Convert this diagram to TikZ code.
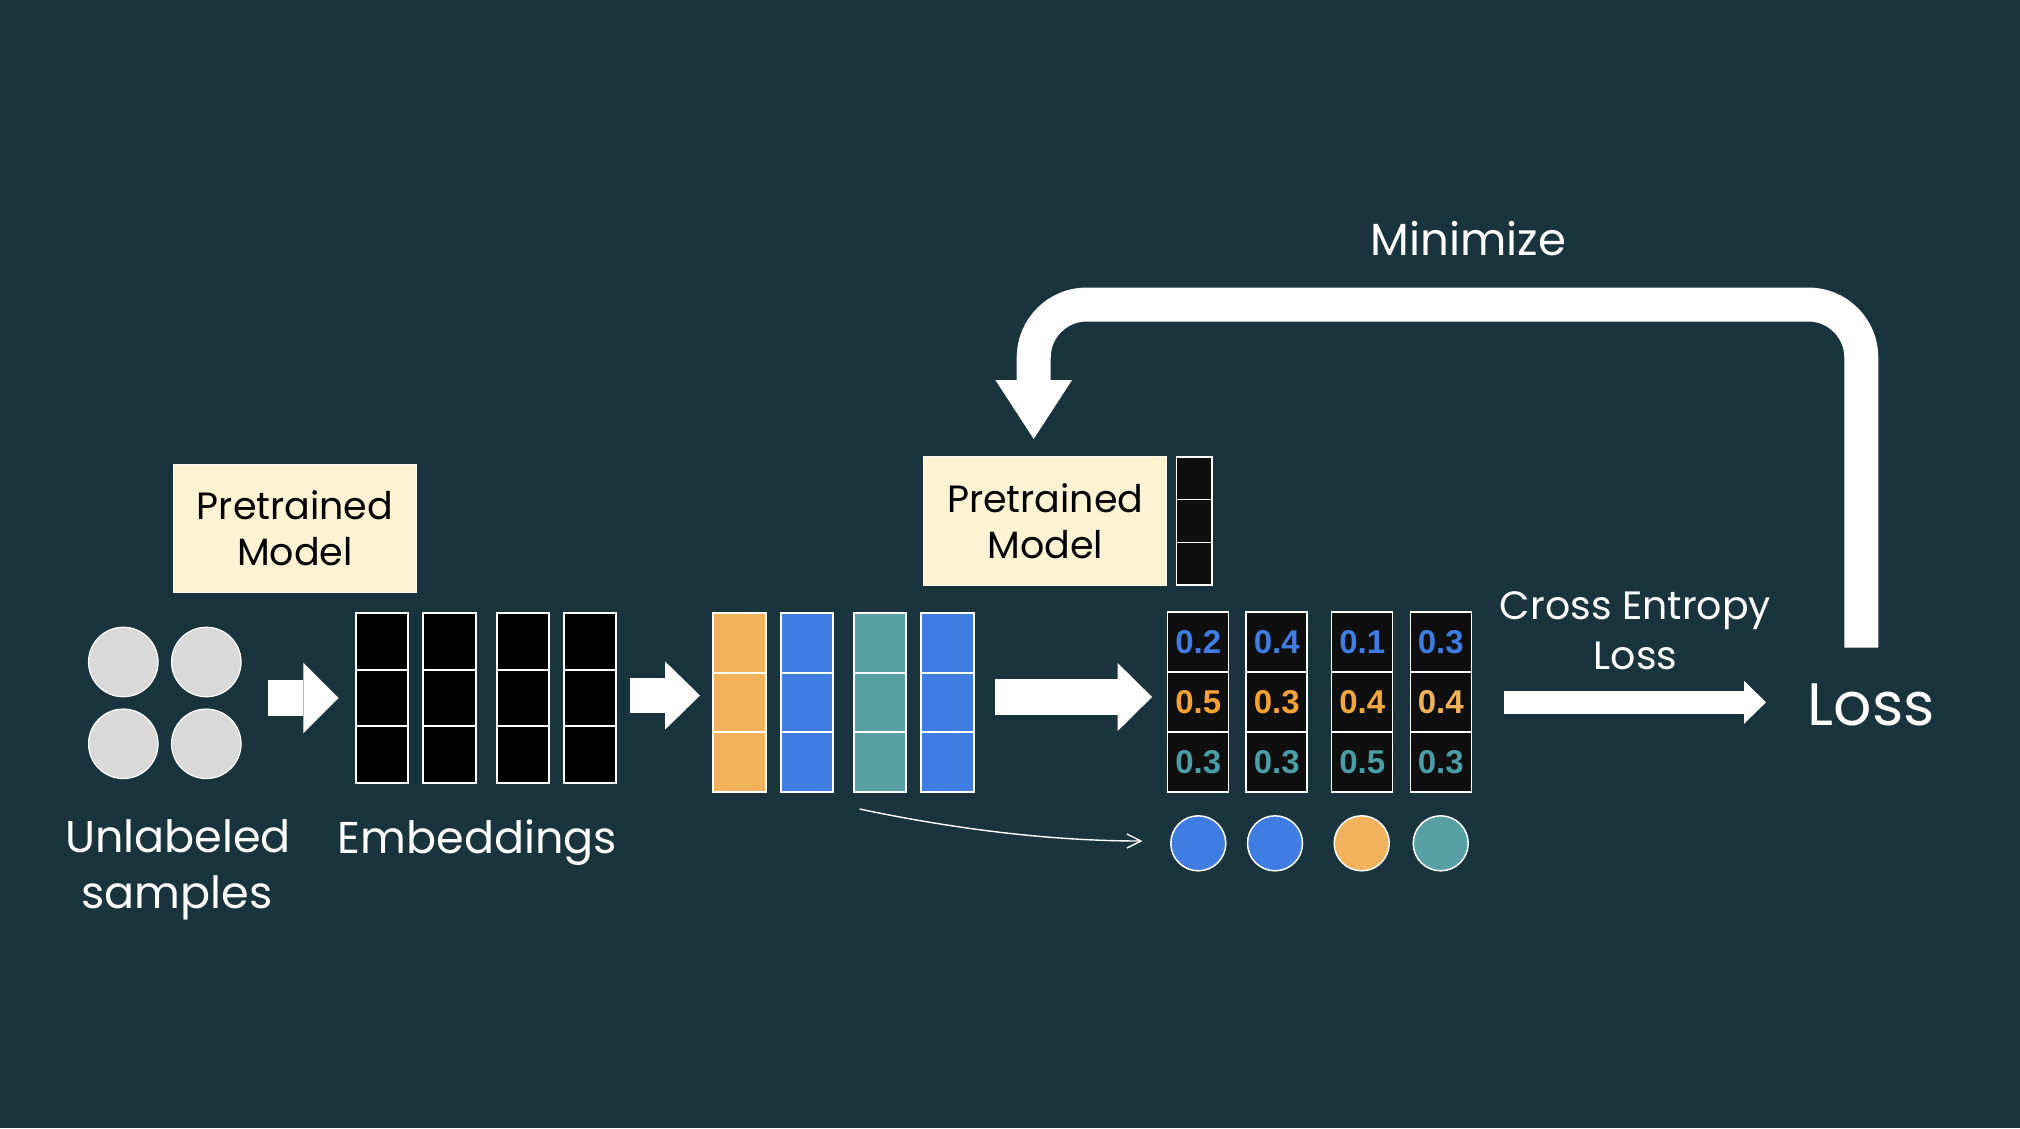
\documentclass[tikz,border=0pt]{standalone}
\usepackage{fontspec}
\setmainfont{Poppins}
\newfontfamily\numfont{Liberation Sans}
\usetikzlibrary{arrows.meta}
\definecolor{bg}{HTML}{1A343D}
\definecolor{cream}{HTML}{FDF2D1}
\definecolor{sgray}{HTML}{D9D9D9}
\definecolor{corange}{HTML}{F2B25B}
\definecolor{cblue}{HTML}{3F7DE3}
\definecolor{cteal}{HTML}{58A0A4}
\definecolor{cellblack}{HTML}{0F0F0F}
\definecolor{numblue}{HTML}{3F7DE3}
\definecolor{numteal}{HTML}{4A9EA6}
\definecolor{numorA}{HTML}{F5A133}
\definecolor{numorB}{HTML}{F3A63F}
\definecolor{numorC}{HTML}{F2B25B}
\begin{document}
\begin{tikzpicture}[x=1pt,y=-1pt,
  embcell/.style={draw=white,line width=2pt,fill=black,minimum width=52.3pt,minimum height=56.5pt,inner sep=0pt,outer sep=0pt},
  colcell/.style={draw=white,line width=2pt,fill=#1,minimum width=52.5pt,minimum height=59.5pt,inner sep=0pt,outer sep=0pt},
  probcell/.style={draw=white,line width=1.5pt,fill=cellblack,minimum width=61pt,minimum height=60pt,inner sep=0pt,outer sep=0pt,
    font=\numfont\bfseries\fontsize{33}{33}\selectfont,text=#1},
  tinycell/.style={draw=white,line width=1.5pt,fill=cellblack,minimum width=35.5pt,minimum height=42.7pt,inner sep=0pt,outer sep=0pt},
  modelbox/.style={fill=cream,draw=white!60!cream,line width=1pt,minimum width=243pt,minimum height=128.6pt,
    align=center,inner sep=0pt,font=\fontsize{38}{46}\selectfont,text=black},
  sample/.style={circle,fill=sgray,draw=white,line width=1.2pt,minimum size=69.5pt,inner sep=0pt},
  classdot/.style={circle,fill=#1,draw=white,line width=1.5pt,minimum size=55pt,inner sep=0pt},
  lbl/.style={text=white,inner sep=0pt,anchor=base,font=\fontsize{44.5}{55}\selectfont},
  smalllbl/.style={text=white,inner sep=0pt,anchor=base,font=\fontsize{39.5}{50}\selectfont},
  blockarrow/.style n args={3}{draw=white,line width=#1,-{Triangle[length=#2,width=#3,line width=0pt]}}
]
\fill[bg] (0,0) rectangle (2020,1128);
\useasboundingbox (0,0) rectangle (2020,1128);

% unlabeled samples
\node[sample] (s1) at (123.3,662) {};
\node[sample] (s2) at (206.3,662) {};
\node[sample] (s3) at (123.3,743.8) {};
\node[sample] (s4) at (206.3,743.8) {};
\node[lbl] (lunl1) at (178,852.7) {Unlabeled};
\node[lbl] (lunl2) at (177,908) {samples};

% first pretrained model
\node[modelbox] (pm1) at (295,528.3) {Pretrained\\Model};

% embeddings
\foreach \x [count=\i] in {382.2,449.5,522.9,590.3}{
  \foreach \y [count=\j] in {641.5,698,754.5}{
    \node[embcell] (emb-\i-\j) at (\x,\y) {};
  }}
\node[lbl] (lemb) at (477.5,853.3) {Embeddings};

% coloured bars
\foreach \x/\c [count=\i] in {739.7/corange,806.8/cblue,880/cteal,947.7/cblue}{
  \foreach \y [count=\j] in {643,702.5,762}{
    \node[colcell=\c] (col-\i-\j) at (\x,\y) {};
  }}

% second pretrained model with head
\node[modelbox] (pm2) at (1045.2,521) {Pretrained\\Model};
\foreach \y [count=\j] in {478.3,521,563.7}{
  \node[tinycell] (head-\j) at (1194.3,\y) {};
}

% probabilities
\foreach \x/\a/\b/\c/\o [count=\i] in {1198.2/0.2/0.5/0.3/numorA,1276.7/0.4/0.3/0.3/numorA,1362.2/0.1/0.4/0.5/numorB,1440.8/0.3/0.4/0.3/numorC}{
  \node[probcell=numblue] (p-\i-1) at (\x,642) {\a};
  \node[probcell=\o] (p-\i-2) at (\x,702) {\b};
  \node[probcell=numteal] (p-\i-3) at (\x,762) {\c};
}

% class dots
\node[classdot=cblue] (d1) at (1198.3,843.3) {};
\node[classdot=cblue] (d2) at (1275,843.3) {};
\node[classdot=corange] (d3) at (1361.7,843.3) {};
\node[classdot=cteal] (d4) at (1440.7,843.3) {};

% loss labels
\node[smalllbl] (lce1) at (1635.5,619.3) {Cross Entropy};
\node[smalllbl] (lce2) at (1635.5,669.3) {Loss};
\node[text=white,inner sep=0pt,anchor=base,font=\fontsize{60}{62}\selectfont] (loss) at (1871.2,725) {Loss};
\node[lbl,font=\fontsize{45}{55}\selectfont] (lmin) at (1468.3,255) {Minimize};

% block arrows
\coordinate (a1s) at (268.3,698);  \coordinate (a1t) at (338.7,698);
\coordinate (a2s) at (630,695.5);  \coordinate (a2t) at (700,695.5);
\coordinate (a3s) at (995.4,697);  \coordinate (a3t) at (1152.1,697);
\coordinate (a4s) at (1504.3,702.3); \coordinate (a4t) at (1766,702.3);
\draw[blockarrow={36pt}{35.4pt}{70.6pt}] (a1s) -- (a1t);
\draw[blockarrow={34.4pt}{35pt}{68.3pt}] (a2s) -- (a2t);
\draw[blockarrow={35.4pt}{34.6pt}{68.3pt}] (a3s) -- (a3t);
\draw[blockarrow={22.7pt}{22pt}{43pt}] (a4s) -- (a4t);

% feedback loop
\coordinate (loopS) at (1861.3,647.7);
\coordinate (loopR) at (1861.3,304.5);
\coordinate (loopL) at (1033.7,304.5);
\coordinate (loopT) at (1033.7,439);
\draw[blockarrow={34pt}{59pt}{76.7pt},rounded corners=53pt] (loopS) -- (loopR) -- (loopL) -- (loopT);

% thin curved arrow
\coordinate (crvS) at (859.6,809);
\coordinate (crvT) at (1142.5,841);
\draw[white,line width=1.4pt,-{Straight Barb[length=14pt,width=14pt]}] (crvS) .. controls (940,826) and (1040,841) .. (crvT);
\end{tikzpicture}
\end{document}
